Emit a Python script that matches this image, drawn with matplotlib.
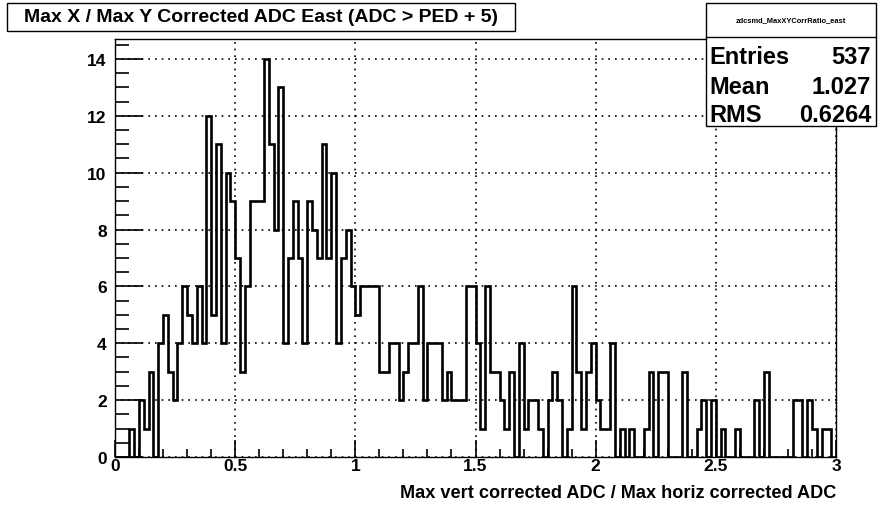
import numpy as np
import matplotlib
matplotlib.use("Agg")
import matplotlib.pyplot as plt
from matplotlib.ticker import MultipleLocator
from matplotlib.patches import Rectangle

# ---- data (bin contents, 150 bins from 0 to 3) ----
x_min, x_max = 0.0, 3.0
counts = [
    0, 0, 0, 1, 0, 2, 1, 3, 0, 4, 5, 3, 2, 4, 6, 5, 4, 6, 4, 12, 5, 11, 4, 10, 9,
    7, 3, 6, 9, 9, 9, 14, 11, 8, 13, 4, 7, 9, 7, 4, 9, 8, 7, 11, 7, 10, 4, 7, 8, 6,
    5, 6, 6, 6, 6, 3, 3, 4, 4, 2, 3, 4, 4, 6, 2, 4, 4, 4, 2, 3, 2, 2, 2, 6, 6,
    4, 1, 6, 3, 3, 2, 1, 3, 0, 4, 1, 2, 2, 1, 0, 2, 3, 2, 0, 1, 6, 3, 1, 3, 4,
    2, 1, 1, 4, 0, 1, 0, 1, 0, 0, 1, 3, 0, 3, 3, 0, 0, 0, 3, 0, 0, 1, 2, 0, 2,
    0, 1, 0, 0, 1, 0, 0, 0, 2, 0, 3, 0, 0, 0, 0, 0, 2, 2, 0, 2, 1, 0, 1, 1, 0,
]
title = "Max X / Max Y Corrected ADC East (ADC > PED + 5)"
xlabel = "Max vert corrected ADC / Max horiz corrected ADC"
stats_name = "zdcsmd_MaxXYCorrRatio_east"
stats_labels = ["Entries", "Mean", "RMS"]
stats_values = ["537", "1.027", "0.6264"]
x_ticks = [0, 0.5, 1, 1.5, 2, 2.5, 3]
x_tick_labels = ["0", "0.5", "1", "1.5", "2", "2.5", "3"]
y_ticks = [0, 2, 4, 6, 8, 10, 12, 14]

plt.rcParams['font.family'] = ['Liberation Sans', 'DejaVu Sans']
plt.rcParams['font.weight'] = 'bold'

W, H = 882, 506
fig = plt.figure(figsize=(W / 100, H / 100), dpi=100)

def px_axes(l, t, r, b):
    return [l / W, 1 - b / H, (r - l) / W, (b - t) / H]

ax = fig.add_axes(px_axes(115, 40, 836, 458))
edges = np.linspace(x_min, x_max, len(counts) + 1)
ax.stairs(counts, edges, color='black', lw=1.9, baseline=0)

ymax = 1.05 * max(counts)
ax.set_xlim(x_min, x_max)
ax.set_ylim(0, ymax)

ax.set_xticks(x_ticks)
ax.set_xticklabels(x_tick_labels)
ax.set_yticks(y_ticks)
ax.xaxis.set_minor_locator(MultipleLocator(0.1))
ax.yaxis.set_minor_locator(MultipleLocator(0.5))
ax.tick_params(axis='both', which='both', direction='in', top=False, right=False,
               labelsize=12.5, width=1.2)
ax.tick_params(axis='x', which='major', length=12, pad=1)
ax.tick_params(axis='x', which='minor', length=6)
ax.tick_params(axis='y', which='major', length=20, pad=6)
ax.tick_params(axis='y', which='minor', length=10)
for lbl in ax.get_xticklabels() + ax.get_yticklabels():
    lbl.set_fontweight('bold')

ax.grid(True, which='major', color='black', linestyle=(0, (1, 3)), lw=1.2)
for s in ax.spines.values():
    s.set_linewidth(1.0)

ax.set_xlabel(xlabel, fontsize=13.1, fontweight='bold', loc='right', labelpad=8)

# Title box
fig.patches.append(Rectangle((7 / W, 1 - 32 / H), (515 - 7) / W, (32 - 4) / H,
                             transform=fig.transFigure, facecolor='white',
                             edgecolor='black', lw=1.0))
fig.text((7 + 515) / 2 / W, 1 - 18 / H, title, ha='center', va='center',
         fontsize=14, fontweight='bold')

# Stats box
sx0, sy0, sx1, sy1 = 706, 4, 876, 127
fig.patches.append(Rectangle((sx0 / W, 1 - sy1 / H), (sx1 - sx0) / W, (sy1 - sy0) / H,
                             transform=fig.transFigure, facecolor='white',
                             edgecolor='black', lw=1.0, zorder=5))
fig.lines.append(plt.Line2D([sx0 / W, sx1 / W], [1 - 38 / H, 1 - 38 / H],
                            transform=fig.transFigure, color='black', lw=1.0, zorder=6))
fig.text((sx0 + sx1) / 2 / W, 1 - 21 / H, stats_name, ha='center', va='center',
         fontsize=5.4, fontweight='bold', zorder=7)
rows_y = [57, 87, 115]
for lab, val, yy in zip(stats_labels, stats_values, rows_y):
    fig.text(709 / W, 1 - yy / H, lab, ha='left', va='center', fontsize=17,
             fontweight='bold', zorder=7)
    fig.text(871 / W, 1 - yy / H, val, ha='right', va='center', fontsize=17,
             fontweight='bold', zorder=7)

fig.savefig("out.png", dpi=100, facecolor='white')
